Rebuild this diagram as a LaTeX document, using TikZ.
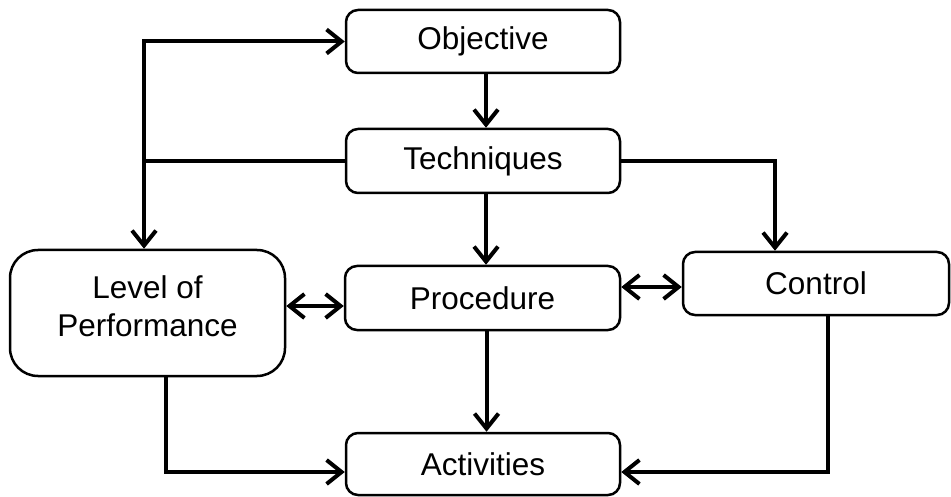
\documentclass[tikz,border=0pt]{standalone}
\usepackage{fontspec}
\setmainfont{Liberation Sans}
\usetikzlibrary{arrows.meta}
\begin{document}
\begin{tikzpicture}[x=1pt,y=-1pt,
  txt/.style={align=center, font=\fontsize{31.5}{38}\selectfont, inner sep=0pt},
  box/.style={txt, draw, line width=2.5pt, rounded corners=12pt},
  conn/.style={line width=4pt, -{Straight Barb[length=15pt,width=24pt]}},
  dconn/.style={line width=4pt, {Straight Barb[length=15pt,width=24pt]}-{Straight Barb[length=15pt,width=24pt]}},
  plain/.style={line width=4pt}]
\useasboundingbox (0,0) rectangle (951,497);
% nodes
\node[box, minimum width=274pt, minimum height=63pt] (obj) at (483,41.5) {Objective};
\node[box, minimum width=274pt, minimum height=64pt] (tech) at (483,161) {Techniques};
\node[box, minimum width=275pt, minimum height=64pt] (proc) at (482.5,298) {Procedure};
\node[box, minimum width=266pt, minimum height=63pt] (ctrl) at (816,283.5) {Control};
\node[box, rounded corners=28pt, minimum width=275pt, minimum height=126pt] (lop) at (147.5,313) {};
\node[txt] (loptext) at (147.5,306) {Level of\\Performance};
\node[box, minimum width=274pt, minimum height=62pt] (act) at (483,464) {Activities};
% helper coordinates
\coordinate (ltop) at (144,41.5);
\coordinate (rc) at (775,161);
\coordinate (lpy) at (300,306);
\coordinate (pcy) at (650,287);
\coordinate (lb) at (166,472);
\coordinate (cb) at (828,472);
% connectors
\draw[conn] (obj.south -| 486,0) -- (tech.north -| 486,0);
\draw[plain] (tech.west) -- (tech.west -| ltop);
\draw[dconn] (ltop |- lop.north) -- (ltop) -- (obj.west);
\draw[conn] (tech.east) -- (rc) -- (rc |- ctrl.north);
\draw[conn] ([xshift=3pt]tech.south) -- ([xshift=3pt]tech.south |- proc.north);
\draw[dconn] (lop.east |- lpy) -- (proc.west |- lpy);
\draw[dconn] (proc.east |- pcy) -- (ctrl.west |- pcy);
\draw[conn] ([xshift=4pt]proc.south) -- ([xshift=4pt]proc.south |- act.north);
\draw[conn] (lop.south -| lb) -- (lb) -- (act.west |- lb);
\draw[conn] (ctrl.south -| cb) -- (cb) -- (act.east |- cb);
\end{tikzpicture}
\end{document}
